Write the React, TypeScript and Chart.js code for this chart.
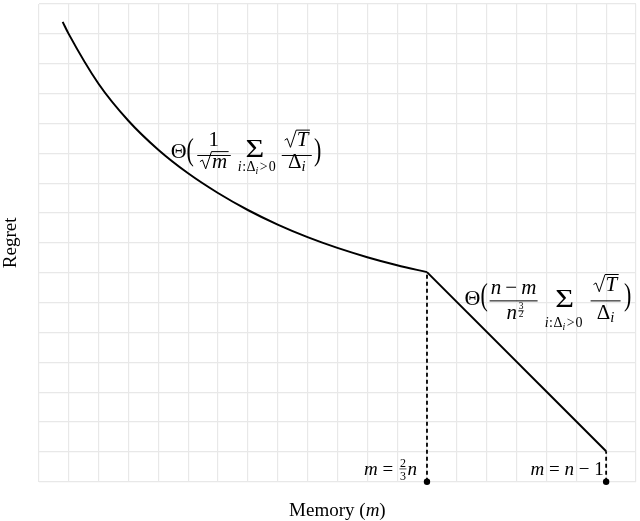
import React, { useEffect, useRef } from 'react';
import { Chart, registerables } from 'chart.js';

Chart.register(...registerables);

// memory (grid units) vs regret
const memory = [0.8, 1, 2, 3, 4, 5, 6, 7, 8, 9, 10, 11, 12, 13];
const regret = [15.4, 15.0, 13.33, 12.09, 11.12, 10.33, 9.67, 9.1, 8.61, 8.19, 7.83, 7.52, 7.25, 7.02];
const tailMemory = [13, 19];
const tailRegret = [7.02, 1.02];
// dashed drop lines: m = 2n/3 and m = n - 1
const markerMemory = [13, 19];
const markerRegret = [7.02, 1.02];

const X_MAX = 20;
const Y_MAX = 16;

const SERIF = '"Liberation Serif", "Times New Roman", serif';

type Run = { t: string; it?: boolean; s?: number; dy?: number; pad?: number };

const fontOf = (size: number, it?: boolean) => `${it ? 'italic ' : ''}${size}px ${SERIF}`;

function widthOf(ctx: CanvasRenderingContext2D, runs: Run[], size: number) {
  let w = 0;
  for (const r of runs) {
    ctx.font = fontOf(size * (r.s ?? 1), r.it);
    w += ctx.measureText(r.t).width + (r.pad ?? 0);
  }
  return w;
}

function drawRuns(ctx: CanvasRenderingContext2D, runs: Run[], x: number, y: number, size: number, align = 'left') {
  const w = widthOf(ctx, runs, size);
  let cx = align === 'center' ? x - w / 2 : align === 'right' ? x - w : x;
  ctx.textAlign = 'left';
  ctx.textBaseline = 'alphabetic';
  for (const r of runs) {
    ctx.font = fontOf(size * (r.s ?? 1), r.it);
    ctx.fillText(r.t, cx, y + (r.dy ?? 0));
    cx += ctx.measureText(r.t).width + (r.pad ?? 0);
  }
  return w;
}

// stretched glyph (big parens, display sum)
function drawScaled(ctx: CanvasRenderingContext2D, t: string, cx: number, cy: number, size: number, sx: number, sy: number) {
  ctx.save();
  ctx.translate(cx, cy);
  ctx.scale(sx, sy);
  ctx.font = fontOf(size);
  ctx.textAlign = 'center';
  ctx.textBaseline = 'middle';
  ctx.fillText(t, 0, 0);
  ctx.restore();
}

function bar(ctx: CanvasRenderingContext2D, x0: number, x1: number, y: number, lw = 1) {
  ctx.lineWidth = lw;
  ctx.beginPath();
  ctx.moveTo(x0, y);
  ctx.lineTo(x1, y);
  ctx.stroke();
}

function drawSqrt(ctx: CanvasRenderingContext2D, runs: Run[], cx: number, y: number, size: number) {
  const inner = widthOf(ctx, runs, size);
  const rw = size * 0.55;
  const total = rw + inner + 1;
  const x0 = cx - total / 2;
  const top = y - size * 0.78;
  ctx.lineWidth = 1;
  ctx.lineJoin = 'miter';
  ctx.beginPath();
  ctx.moveTo(x0, y - size * 0.3);
  ctx.lineTo(x0 + rw * 0.22, y - size * 0.38);
  ctx.lineTo(x0 + rw * 0.5, y + size * 0.04);
  ctx.lineTo(x0 + rw, top);
  ctx.lineTo(x0 + total + 1, top);
  ctx.stroke();
  drawRuns(ctx, runs, x0 + rw + 0.5, y, size);
}

const sumIndex: Run[] = [
  { t: 'i', it: true, pad: 0.5 },
  { t: ':', pad: 0.5 },
  { t: 'Δ' },
  { t: 'i', it: true, s: 0.7, dy: 3, pad: 1.5 },
  { t: '>', pad: 1 },
  { t: '0' },
];

const label1At = { x: 4.42, y: 11.06 };
const label2At = { x: 14.26, y: 6.19 };

const annotations = {
  id: 'mathLabels',
  afterDraw(chart: Chart) {
    const ctx = chart.ctx;
    const xs = chart.scales.x;
    const ys = chart.scales.y;
    const S = 21;
    ctx.save();
    ctx.fillStyle = '#000';
    ctx.strokeStyle = '#000';

    // Θ( 1/√m Σ √T/Δi )
    let ax = xs.getPixelForValue(label1At.x);
    let ay = ys.getPixelForValue(label1At.y);
    drawRuns(ctx, [{ t: 'Θ' }], ax, ay + 7, 22);
    drawScaled(ctx, '(', ax + 19.5, ay, 22, 1, 1.45);
    bar(ctx, ax + 26.5, ax + 60, ay + 4);
    drawRuns(ctx, [{ t: '1' }], ax + 43, ay - 5, S, 'center');
    drawSqrt(ctx, [{ t: 'm', it: true }], ax + 43, ay + 16.5, S);
    drawScaled(ctx, 'Σ', ax + 84, ay - 0.5, 23, 1.4, 1.05);
    drawRuns(ctx, sumIndex, ax + 86, ay + 20, 14, 'center');
    bar(ctx, ax + 111, ax + 141, ay + 4);
    drawSqrt(ctx, [{ t: 'T', it: true }], ax + 126, ay - 5, S);
    drawRuns(ctx, [{ t: 'Δ' }, { t: 'i', it: true, s: 0.7, dy: 3 }], ax + 126, ay + 16.5, S, 'center');
    drawScaled(ctx, ')', ax + 147, ay, 22, 1, 1.45);

    // Θ( (n−m)/n^{3/2} Σ √T/Δi )
    ax = xs.getPixelForValue(label2At.x);
    ay = ys.getPixelForValue(label2At.y);
    drawRuns(ctx, [{ t: 'Θ' }], ax, ay + 8, 22);
    drawScaled(ctx, '(', ax + 19.5, ay, 22, 1, 1.45);
    bar(ctx, ax + 25, ax + 73, ay + 4);
    drawRuns(ctx, [{ t: 'n', it: true, pad: 4 }, { t: '−', pad: 4 }, { t: 'm', it: true }], ax + 49, ay - 3, S, 'center');
    const nw = drawRuns(ctx, [{ t: 'n', it: true }], ax + 42, ay + 22, S);
    const fx = ax + 42 + nw + 4;
    drawRuns(ctx, [{ t: '3' }], fx, ay + 12.5, 9.5, 'center');
    bar(ctx, fx - 3, fx + 3, ay + 14, 0.7);
    drawRuns(ctx, [{ t: '2' }], fx, ay + 20, 9.5, 'center');
    drawScaled(ctx, 'Σ', ax + 100, ay + 3.5, 23, 1.4, 1.05);
    drawRuns(ctx, sumIndex, ax + 99, ay + 30.5, 14, 'center');
    bar(ctx, ax + 126, ax + 156, ay + 4);
    drawSqrt(ctx, [{ t: 'T', it: true }], ax + 141, ay - 6, S);
    drawRuns(ctx, [{ t: 'Δ' }, { t: 'i', it: true, s: 0.7, dy: 3 }], ax + 141, ay + 22, S, 'center');
    drawScaled(ctx, ')', ax + 163, ay, 22, 1, 1.45);

    // m = ⅔n at the first drop line
    const base = ys.getPixelForValue(0);
    let rx = xs.getPixelForValue(markerMemory[0]) - 10;
    const wn = drawRuns(ctx, [{ t: 'n', it: true }], rx, base - 6.7, 19, 'right');
    const fcx = rx - wn - 4.5;
    drawRuns(ctx, [{ t: '2' }], fcx, base - 14.5, 12, 'center');
    bar(ctx, fcx - 3.5, fcx + 3.5, base - 12.8, 0.7);
    drawRuns(ctx, [{ t: '3' }], fcx, base - 2, 12, 'center');
    drawRuns(ctx, [{ t: 'm', it: true }, { t: ' = ' }], fcx - 5, base - 6.7, 19, 'right');

    // m = n − 1 at the second drop line
    rx = xs.getPixelForValue(markerMemory[1]) - 2.5;
    drawRuns(ctx, [{ t: 'm', it: true }, { t: ' = ' }, { t: 'n', it: true }, { t: ' − 1' }], rx, base - 6.7, 19, 'right');

    // x-axis title
    const mid = (chart.chartArea.left + chart.chartArea.right) / 2;
    drawRuns(ctx, [{ t: 'Memory (' }, { t: 'm', it: true }, { t: ')' }], mid, 516, 19, 'center');
    ctx.restore();
  },
};

const App: React.FC = () => {
  const chartRef = useRef<HTMLCanvasElement>(null);

  useEffect(() => {
    if (!chartRef.current) return;
    const ctx = chartRef.current.getContext('2d');
    if (!ctx) return;

    const drops = markerMemory.map((m, i) => ({
      data: [{ x: m, y: 0 }, { x: m, y: markerRegret[i] }],
      borderColor: '#000',
      borderWidth: 1.8,
      borderDash: [4, 3],
      pointRadius: [3.2, 0],
      pointBackgroundColor: '#000',
      pointBorderWidth: 0,
      clip: false as const,
    }));

    const chart = new Chart(ctx, {
      type: 'line',
      data: {
        datasets: [
          {
            data: memory.map((m, i) => ({ x: m, y: regret[i] })),
            borderColor: '#000',
            borderWidth: 2,
            cubicInterpolationMode: 'monotone',
            pointRadius: 0,
          },
          {
            data: tailMemory.map((m, i) => ({ x: m, y: tailRegret[i] })),
            borderColor: '#000',
            borderWidth: 2,
            pointRadius: 0,
          },
          ...drops,
        ],
      },
      options: {
        responsive: false,
        animation: false,
        layout: { padding: { top: 1.7, right: 1, bottom: 39.3, left: 0 } },
        plugins: { legend: { display: false }, tooltip: { enabled: false } },
        scales: {
          x: {
            type: 'linear',
            min: 0,
            max: X_MAX,
            ticks: { display: false, stepSize: 1 },
            grid: { color: '#e8e8e8', lineWidth: 1.2, drawTicks: false },
            border: { display: false },
          },
          y: {
            type: 'linear',
            min: 0,
            max: Y_MAX,
            ticks: { display: false, stepSize: 1 },
            grid: { color: '#e8e8e8', lineWidth: 1.2, drawTicks: false },
            border: { display: false },
            title: {
              display: true,
              text: 'Regret',
              color: '#000',
              font: { family: SERIF, size: 19 },
              padding: { top: 0, bottom: 16 },
            },
          },
        },
      },
      plugins: [annotations],
    });

    return () => {
      chart.destroy();
    };
  }, []);

  return (
    <div style={{ position: 'absolute', left: 0, top: 0, width: 640, height: 521, background: '#fff' }}>
      <canvas ref={chartRef} width={640} height={521} />
    </div>
  );
};

export default App;
